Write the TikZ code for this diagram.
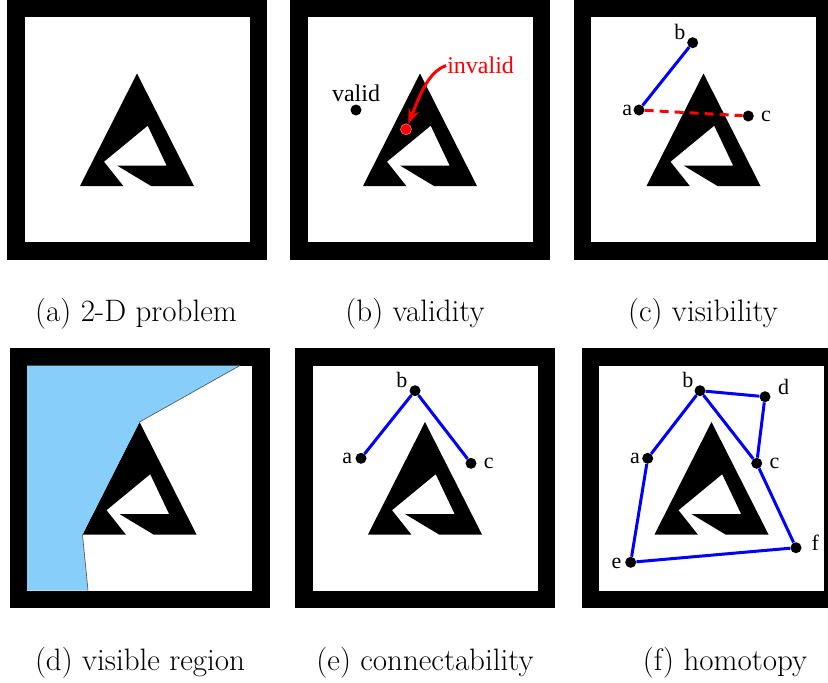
\documentclass[tikz,border=0pt]{standalone}
\usepackage{fontspec}
\usetikzlibrary{positioning,arrows.meta}
\newfontfamily\figfont{Liberation Serif}
\definecolor{visblue}{RGB}{135,206,250}

\tikzset{
  workspace/.pic={
    \fill[black] (-130,-130) rectangle (130,130);
    \fill[white] (-112.5,-112.5) rectangle (112.5,112.5);
    \fill[black] (0,-56) -- (57,56.5) -- (14,56.5) -- (-19.7,36.2)
      -- (29.7,36.2) -- (10.7,-3.8) -- (-33,32.2) -- (-13.7,56.5)
      -- (-57,56.5) -- cycle;
  },
}

\begin{document}
\begin{tikzpicture}[x=1pt,y=-1pt,
    dot/.style={circle,fill=black,inner sep=0pt,minimum size=11pt},
    lbl/.style={inner sep=1pt,font=\figfont\fontsize{22}{22}\selectfont},
    subcap/.style={inner sep=0pt,font=\fontsize{31}{31}\selectfont},
    route/.style={blue,line width=3pt}]

  \useasboundingbox (0,0) rectangle (828,683);
  \clip (0,0) rectangle (828,683);

  % the six workspaces
  \pic at (137,129.5)   {workspace};
  \pic at (420,129.5)   {workspace};
  \pic at (703.5,129.5) {workspace};
  \pic at (139.5,478)   {workspace};
  \pic at (425,478)     {workspace};
  \pic at (711.5,478)   {workspace};

  % (b) validity
  \node[dot] (good) at (356,110) {};
  \node[dot,fill=red,draw=red!55!white,line width=0.6pt] (bad) at (406,129.3) {};
  \node[lbl,font=\figfont\fontsize{24}{24}\selectfont] (goodl) [above=1pt of good] {valid};
  \node[lbl,red,font=\figfont\fontsize{24}{24}\selectfont] (inv)
       [above right=50pt and 36pt of bad] {invalid};
  \draw[red,line width=3pt,-{Stealth[length=15pt,width=11pt]}]
       (inv.west) .. controls (428,72) and (420,95) .. (bad);

  % (c) visibility
  \node[dot] (visA) at (639,110) {};
  \node[dot] (visB) at (692.7,42.7) {};
  \node[dot] (visC) at (748.3,116) {};
  \node[lbl] (visAl) [left=0pt of visA] {a};
  \node[lbl] (visBl) [above left=-2.5pt and 2pt of visB] {b};
  \node[lbl] (visCl) [right=6pt of visC] {c};
  \draw[route] (visA) -- (visB);
  \draw[red,line width=3pt,dash pattern=on 9pt off 6pt] (visA) -- (visC);

  % (d) visible region
  \node[dot] (regA) at (75,458.3) {};
  \node[lbl] (regAl) [left=3pt of regA] {a};
  \coordinate (topD)  at (240,365.5);
  \coordinate (apexD) at (139.5,422);
  \coordinate (baseD) at (82.5,534.5);
  \coordinate (botD)  at (88,590.5);
  \fill[visblue] (27,365.5) -- (topD) -- (apexD) -- (baseD) -- (botD)
       -- (27,590.5) -- cycle;
  \draw[gray!60!black,line width=0.6pt] (topD) -- (apexD) (baseD) -- (botD);

  % (e) connectability
  \node[dot] (conA) at (361,458.3) {};
  \node[dot] (conB) at (415,390.7) {};
  \node[dot] (conC) at (471,463.3) {};
  \node[lbl] (conAl) [left=2pt of conA] {a};
  \node[lbl] (conBl) [above left=-2pt and 2.5pt of conB] {b};
  \node[lbl] (conCl) [right=6pt of conC] {c};
  \draw[route] (conA) -- (conB) -- (conC);

  % (f) homotopy
  \node[dot] (homA) at (647.7,458.3) {};
  \node[dot] (homB) at (700,390.7) {};
  \node[dot] (homC) at (756.7,463.3) {};
  \node[dot] (homD) at (765,396.7) {};
  \node[dot] (homE) at (630.7,562.3) {};
  \node[dot] (homF) at (796,547.7) {};
  \node[lbl] (homAl) [left=1pt of homA] {a};
  \node[lbl] (homBl) [above left=-2.5pt and 1.5pt of homB] {b};
  \node[lbl] (homCl) [right=6pt of homC] {c};
  \node[lbl] (homDl) [above right=-3pt and 8pt of homD] {d};
  \node[lbl] (homEl) [below left=-9.5pt and 4pt of homE] {e};
  \node[lbl] (homFl) [above right=-8.5pt and 10.5pt of homF] {f};
  \draw[route] (homA) -- (homB) -- (homD) -- (homC) -- (homF) -- (homE) -- (homA);
  \draw[route] (homB) -- (homC);

  % captions
  \node[subcap] (capA) at (136,314) {(a) 2-D problem};
  \node[subcap] (capB) at (415,314) {(b) validity};
  \node[subcap] (capC) at (703,314) {(c) visibility};
  \node[subcap] (capD) at (140,663) {(d) visible region};
  \node[subcap] (capE) at (425,663) {(e) connectability};
  \node[subcap] (capF) at (725,663) {(f) homotopy};
\end{tikzpicture}
\end{document}
